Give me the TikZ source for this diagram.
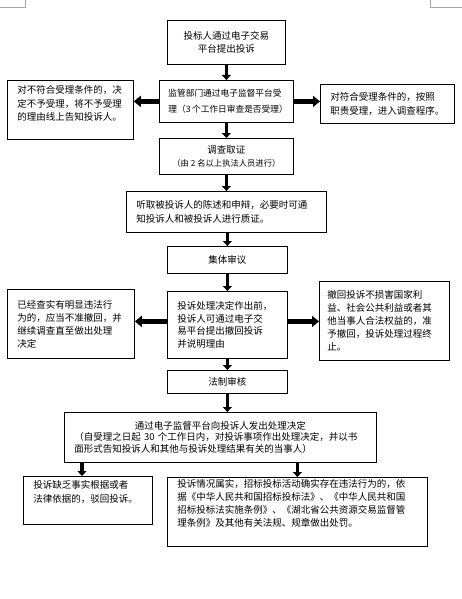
\documentclass[tikz,border=0pt]{standalone}
\usepackage{fontspec}
\setmainfont{Noto Sans CJK SC}
\usetikzlibrary{arrows.meta}
\begin{document}
\begin{tikzpicture}[x=1pt,y=-1pt,
  box/.style={draw,line width=0.8pt,inner ysep=0pt,anchor=north west,font=\fontsize{9.5}{13.5}\selectfont},
  varr/.style={line width=3.5pt,-{Triangle[length=5pt,width=9pt]}},
  harr/.style={line width=5pt,-{Triangle[length=7pt,width=11pt]}},
  cornermark/.style={draw=gray!70,line width=0.7pt}]
\useasboundingbox (0,0) rectangle (462,599);
% page corner marks
\draw[cornermark] (25,0) -- (25,7) -- (0,7);
\draw[cornermark] (430,0) -- (430,7) -- (462,7);
% nodes
\node[box,minimum width=118,minimum height=44,align=center] (b1) at (167,20)
  {投标人通过电子交易\\平台提出投诉};
\node[box,minimum width=134,minimum height=42,inner xsep=9,text width=116,align=left,
  font=\fontsize{8.7}{15.5}\selectfont] (b2) at (159,80)
  {监管部门通过电子监督平台受\\\mbox{理（3\,个工作日审查是否受理）}};
\node[box,minimum width=126,minimum height=59,inner xsep=10,text width=106,align=left] (L1) at (7,80)
  {对不符合受理条件的，决\\定不予受理，将不予受理\\的理由线上告知投诉人。\\[-4pt]\strut};
\node[box,minimum width=134,minimum height=39,inner xsep=10,text width=114,align=left] (R1) at (320,84)
  {对符合受理条件的，按照\\职责受理，进入调查程序。};
\node[box,minimum width=134,minimum height=36,align=center] (b3) at (159,138)
  {调查取证\\{\fontsize{8.3}{13.5}\selectfont（由 2 名以上执法人员进行）}};
\node[box,minimum width=200,minimum height=41,inner xsep=10,text width=180,align=left] (b4) at (126,191)
  {听取被投诉人的陈述和申辩，必要时可通\\知投诉人和被投诉人进行质证。};
\node[box,minimum width=120,minimum height=27,align=center] (b5) at (167,246)
  {集体审议};
\node[box,minimum width=120,minimum height=67,inner xsep=10,text width=100,align=left,
  font=\fontsize{9.5}{12.8}\selectfont] (c) at (167,291)
  {投诉处理决定作出前，\\投诉人可通过电子交\\易平台提出撤回投诉\\并说明理由};
\node[box,minimum width=127,minimum height=69,inner xsep=10,text width=107,align=left,
  font=\fontsize{9.5}{13}\selectfont] (L2) at (7,289)
  {已经查实有明显违法行\\为的，应当不准撤回，并\\继续调查直至做出处理\\决定};
\node[box,minimum width=130,minimum height=79,inner xsep=8,text width=114,align=left,
  font=\fontsize{9.5}{13}\selectfont] (R2) at (319,281)
  {撤回投诉不损害国家利\\益、社会公共利益或者其\\他当事人合法权益的，准\\予撤回，投诉处理过程终\\止。};
\node[box,minimum width=120,minimum height=23,align=center] (b6) at (167,370)
  {法制审核};
\node[box,minimum width=312,minimum height=50,inner xsep=10,text width=292,align=left,
  font=\fontsize{9.5}{11.7}\selectfont] (b7) at (64,412)
  {\makebox[292pt][c]{通过电子监督平台向投诉人发出处理决定}\\\mbox{（自受理之日起 30 个工作日内，对投诉事项作出处理决定，并以书}\\面形式告知投诉人和其他与投诉处理结果有关的当事人）};
\node[box,minimum width=129,minimum height=48,inner xsep=10,text width=109,align=left,
  font=\fontsize{9.5}{14}\selectfont] (BL) at (23,476)
  {投诉缺乏事实根据或者\\法律依据的，驳回投诉。\\\strut};
\node[box,minimum width=260,minimum height=69,inner xsep=10,text width=240,align=left,
  font=\fontsize{9.5}{13}\selectfont] (BR) at (167,477)
  {投诉情况属实，招标投标活动确实存在违法行为的，依\\据《中华人民共和国招标投标法》、《中华人民共和国\\招标投标法实施条例》、《湖北省公共资源交易监督管\\理条例》及其他有关法规、规章做出处罚。\\\strut};
% connectors
\coordinate (xl) at (82,0);
\draw[varr] (b1) -- (b2);
\draw[varr] (b2) -- (b3);
\draw[varr] (b3) -- (b4);
\draw[varr] (b4.south -| b5.north) -- (b5);
\draw[varr] (b5) -- (c);
\draw[varr] (c) -- (b6);
\draw[varr] (b6.south) -- (b6.south |- b7.north);
\draw[harr] (b2.west) -- (b2.west -| L1.east);
\draw[harr] (b2.east) -- (b2.east -| R1.west);
\draw[harr] ([yshift=3.5pt]c.west) -- ([yshift=3.5pt]c.west -| L2.east);
\draw[harr] ([yshift=3.5pt]c.east) -- ([yshift=3.5pt]c.east -| R2.west);
\draw[varr] (b7.south -| xl) -- (BL.north -| xl);
\draw[varr] (BR.north |- b7.south) -- (BR.north);
\end{tikzpicture}
\end{document}
